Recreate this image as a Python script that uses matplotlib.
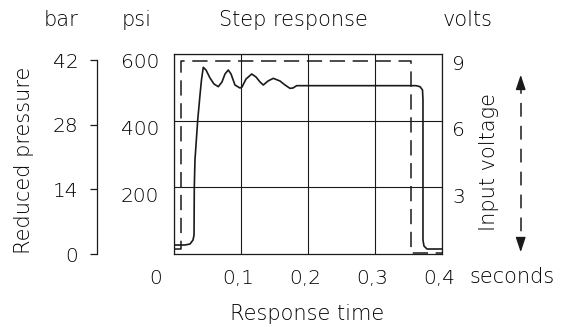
import matplotlib
matplotlib.use("Agg")
import matplotlib.pyplot as plt
import matplotlib.patches as mpatches
from matplotlib.transforms import ScaledTranslation
from matplotlib.lines import Line2D

# ---- data ----
time_s = [0.0, 0.0164, 0.0239, 0.0284, 0.0299, 0.0303, 0.0313, 0.0354, 0.0388, 0.041,
          0.0437, 0.0478, 0.0537, 0.0597, 0.0661, 0.0716, 0.0761, 0.081, 0.0851, 0.091,
          0.0985, 0.1015, 0.1075, 0.116, 0.1224, 0.1284, 0.1333, 0.1403, 0.1482, 0.1582,
          0.1657, 0.1731, 0.1776, 0.1831, 0.1955, 0.3612, 0.3672, 0.3709, 0.3716, 0.3716,
          0.3731, 0.3776, 0.4]
pressure_psi = [27, 27, 30, 42, 57, 201, 282, 402, 477, 522,
                560, 552, 528, 510, 502, 516, 540, 552, 540, 507,
                498, 501, 525, 540, 531, 516, 507, 519, 527, 519,
                507, 497, 498, 505, 505, 505, 502, 492, 462, 42,
                24, 15, 15]

input_time = [0.0, 0.011, 0.011, 0.353, 0.353, 0.4]
input_volts = [0.22, 0.22, 8.68, 8.68, 0.05, 0.05]

x_ticks = [0, 0.1, 0.2, 0.3, 0.4]
x_labels = ["0", "0,1", "0,2", "0,3", "0,4"]
psi_ticks = [200, 400, 600]
volt_ticks = [3, 6, 9]
bar_ticks = [0, 14, 28, 42]

W, H = 571, 327
DPI = 100
TXT = "#000000"
LINE = "#1a1a1a"
FS = 15
FT = 14.5
FW = 'light'

plt.rcParams['font.family'] = ['DejaVu Sans']
plt.rcParams['font.weight'] = FW

fig = plt.figure(figsize=(W / DPI, H / DPI), dpi=DPI)

def fx(px):
    return px / W

def fy(py):
    return 1 - py / H

# main axes
L, R, T, B = 174, 442, 54, 254
ax = fig.add_axes([fx(L), fy(B), (R - L) / W, (B - T) / H])
ax.set_xlim(0, 0.4)
ax.set_ylim(0, 600)
for s in ax.spines.values():
    s.set_linewidth(0.9)
    s.set_color(LINE)
ax.set_xticks(x_ticks)
ax.set_xticklabels(x_labels)
ax.set_yticks(psi_ticks)
ax.set_yticklabels([str(v) for v in psi_ticks])
ax.grid(True, color=LINE, linewidth=0.8)
ax.tick_params(axis='both', length=0, labelsize=FT, labelcolor=TXT)
ax.tick_params(axis='x', pad=10.5)
ax.tick_params(axis='y', pad=10.5)

ax.plot(time_s, pressure_psi, color=LINE, linewidth=1.2, solid_joinstyle='round')

# shift tick labels
for i, lab in enumerate(ax.get_xticklabels()):
    dx = -18 if i == 0 else -3
    lab.set_transform(lab.get_transform() + ScaledTranslation(dx / DPI, 0, fig.dpi_scale_trans))
for lab in ax.get_yticklabels():
    lab.set_transform(lab.get_transform() + ScaledTranslation(0, -7 / DPI, fig.dpi_scale_trans))

# twin axis for volts
ax2 = ax.twinx()
ax2.set_ylim(0, 9)
ax2.set_yticks(volt_ticks)
ax2.set_yticklabels([str(v) for v in volt_ticks])
ax2.tick_params(axis='y', length=0, labelsize=FT, labelcolor=TXT, pad=7.5)
for s in ax2.spines.values():
    s.set_visible(False)
ax2.plot(input_time, input_volts, color=LINE, linewidth=1.1, dashes=(10, 5))
for lab in ax2.get_yticklabels():
    lab.set_transform(lab.get_transform() + ScaledTranslation(0, -8 / DPI, fig.dpi_scale_trans))

# bar axis
axb = fig.add_axes([fx(97), fy(254), 0.001, (254 - 60) / H])
axb.set_ylim(0, 42)
axb.patch.set_visible(False)
for k in ['top', 'right', 'bottom']:
    axb.spines[k].set_visible(False)
axb.spines['left'].set_linewidth(0.9)
axb.spines['left'].set_color(LINE)
axb.set_xticks([])
axb.set_yticks(bar_ticks)
axb.set_yticklabels([str(v) for v in bar_ticks])
axb.tick_params(axis='y', length=5, width=0.9, color=LINE, labelsize=FT,
                labelcolor=TXT, pad=8.5)

# texts
def t(px, py, s, **kw):
    fig.text(fx(px), fy(py), s, ha='center', va='center', fontsize=FS, color=TXT, **kw)

t(61, 20, "bar")
t(137, 20, "psi")
t(293, 20, "Step response")
t(468, 20, "volts")
t(24, 160, "Reduced pressure", rotation=90)
t(489, 162, "Input voltage", rotation=90)
t(512, 277, "seconds")
t(307, 314, "Response time")

# dashed double arrow
xa = fx(520.7)
fig.add_artist(Line2D([xa, xa], [fy(80), fy(247)], transform=fig.transFigure,
                      color=LINE, linewidth=1.1, dashes=(9, 6)))
fig.add_artist(mpatches.FancyArrowPatch(
    (xa, fy(86)), (xa, fy(72)), transform=fig.transFigure,
    arrowstyle='-|>,head_length=0.9,head_width=0.3', mutation_scale=10,
    color=LINE, linewidth=1.0))
fig.add_artist(mpatches.FancyArrowPatch(
    (xa, fy(241)), (xa, fy(255)), transform=fig.transFigure,
    arrowstyle='-|>,head_length=0.9,head_width=0.3', mutation_scale=10,
    color=LINE, linewidth=1.0))

fig.savefig("out.png", dpi=DPI)
